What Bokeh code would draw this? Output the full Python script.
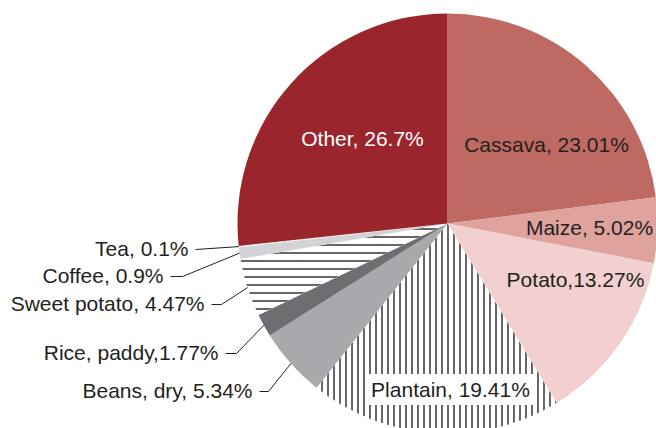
import math
from bokeh.plotting import figure
from bokeh.models import ColumnDataSource, Range1d, Label
from bokeh.embed import file_html
from bokeh.resources import INLINE

# ---- data (clockwise from 12 o'clock) ----
crops = ["Cassava", "Maize", "Potato", "Plantain", "Beans, dry", "Rice, paddy",
         "Sweet potato", "Coffee", "Tea", "Other"]
shares = [23.01, 5.02, 13.27, 19.41, 5.34, 1.77, 4.47, 0.9, 0.1, 26.7]
label_texts = ["Cassava, 23.01%", "Maize, 5.02%", "Potato,13.27%", "Plantain, 19.41%",
               "Beans, dry, 5.34%", "Rice, paddy,1.77%", "Sweet potato, 4.47%",
               "Coffee, 0.9%", "Tea, 0.1%", "Other, 26.7%"]

# ---- styles ----
colors = ["#BE6A62", "#DFA29D", "#F1D0CF", "#FFFFFF", "#A7A9AC", "#6D6E71",
          "#FFFFFF", "#D1D3D4", "#F4F4F4", "#9B252C"]
hatches = [" ", " ", " ", "vertical_line", " ", " ", "horizontal_line", " ", " ", " "]
hatch_scales = [6, 6, 6, 6, 6, 6, 8, 6, 6, 6]

W, H = 656, 428
FONT = "Liberation Sans"
FS = "21px"
TXT = "#231F20"
TEXT_SHIFT = 8  # rendered baseline correction


def px(X, Y):
    """reference-image pixel -> data coordinate"""
    return X, H - Y


cx, cy = px(447, 223)
R = 210

total = sum(shares)
cum = [0.0]
for s in shares:
    cum.append(cum[-1] + s / total)


def theta(c):
    return math.pi / 2 - 2 * math.pi * c


start = [theta(cum[i + 1]) for i in range(len(shares))]
end = [theta(cum[i]) for i in range(len(shares))]
mid = [theta((cum[i] + cum[i + 1]) / 2) for i in range(len(shares))]

src = ColumnDataSource(dict(crop=crops, share=shares, start=start, end=end,
                            color=colors, hatch=hatches, hscale=hatch_scales))

p = figure(width=W, height=H, output_backend="svg", toolbar_location=None,
           x_range=Range1d(0, W), y_range=Range1d(0, H), min_border=0)
p.axis.visible = False
p.grid.visible = False
p.outline_line_color = None
p.background_fill_color = "white"

p.wedge(x=cx, y=cy, radius=R, start_angle="start", end_angle="end",
        direction="anticlock", fill_color="color", line_color=None,
        hatch_pattern="hatch", hatch_color="black", hatch_scale="hscale",
        hatch_weight=1.2, source=src)

# ---- inside labels (layout: centre x, baseline y in reference px) ----
inside = {
    "Other": (362, 146, "white"),
    "Cassava": (546, 152, TXT),
    "Maize": (589, 235, TXT),
    "Potato": (575, 287, TXT),
}
for name, (X, Y, col) in inside.items():
    i = crops.index(name)
    x, y = px(X, Y)
    p.add_layout(Label(x=x, y=y + TEXT_SHIFT, text=label_texts[i], text_align="center",
                       text_baseline="alphabetic", text_font=FONT,
                       text_font_size=FS, text_color=col))

i = crops.index("Plantain")
x, y = px(450, 397)
p.add_layout(Label(x=x, y=y + TEXT_SHIFT, text=label_texts[i], text_align="center",
                   text_baseline="alphabetic", text_font=FONT,
                   text_font_size=FS, text_color=TXT,
                   background_fill_color="white", padding=4))

# ---- outside labels with leader lines (layout: text right x, baseline y, elbow) ----
outside = {
    "Tea": (188, 256, 0),
    "Coffee": (163, 283, 12),
    "Sweet potato": (204, 311, 10),
    "Rice, paddy": (218, 360, 11),
    "Beans, dry": (252, 398, 9),
}
for name, (X, Y, elbow) in outside.items():
    i = crops.index(name)
    x, y = px(X, Y)
    p.add_layout(Label(x=x, y=y + TEXT_SHIFT, text=label_texts[i], text_align="right",
                       text_baseline="alphabetic", text_font=FONT,
                       text_font_size=FS, text_color=TXT))
    ly = y + 7
    x0 = x + 7
    ex = cx + R * math.cos(mid[i])
    ey = cy + R * math.sin(mid[i])
    p.line([x0, x0 + elbow, ex], [ly, ly, ey], line_color=TXT, line_width=1)

open("out.html", "w").write(file_html(p, INLINE))
